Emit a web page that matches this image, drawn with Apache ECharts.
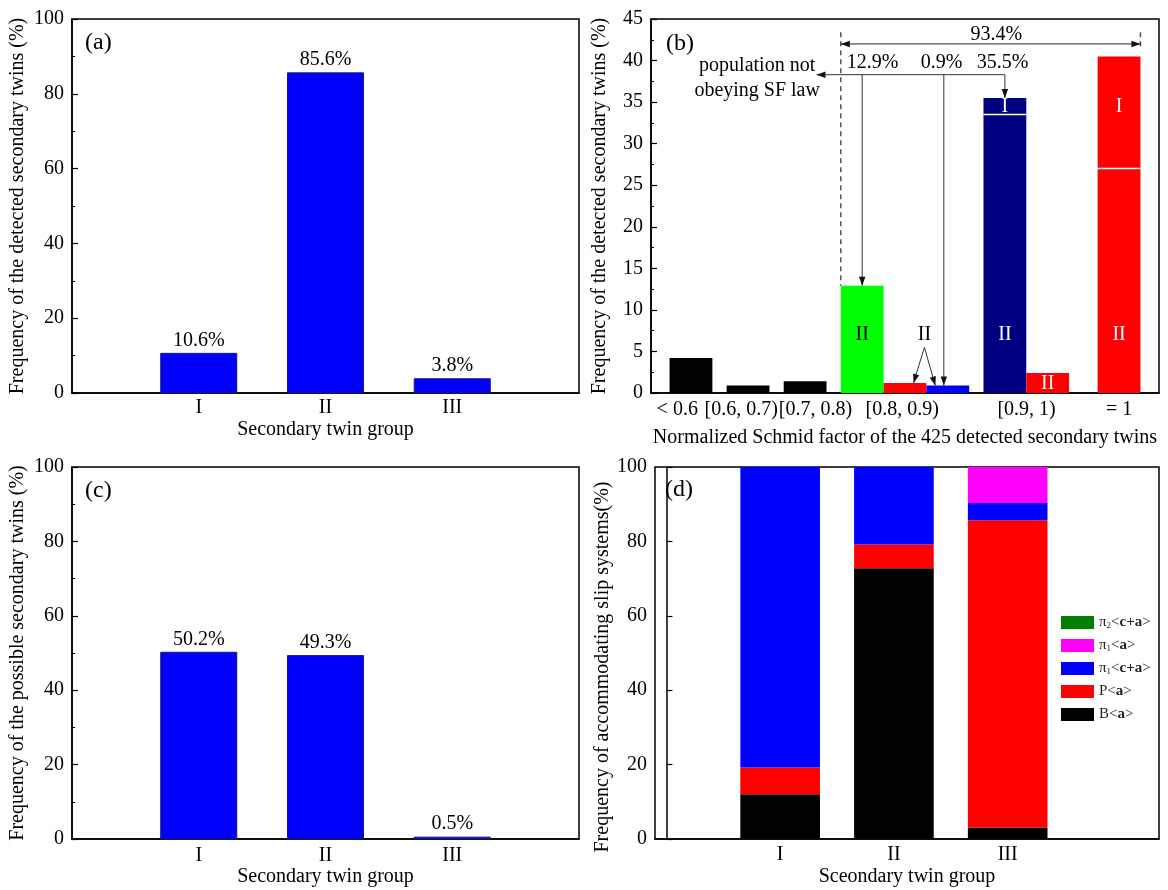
<!DOCTYPE html>
<html><head><meta charset="utf-8">
<script src="https://cdn.jsdelivr.net/npm/echarts@6/dist/echarts.min.js"></script>
<style>html,body{margin:0;padding:0;background:#fff}#c{width:1168px;height:890px}</style>
</head><body><div id="c"></div>
<script>
// ================= DATA =================
// (a) and (c): secondary twin groups
const groupCats = ['I', 'II', 'III'];
const groupPos = [1, 2, 3];
const detectedFreq = [10.6, 85.6, 3.8];   // (a) % of detected secondary twins
const possibleFreq = [50.2, 49.3, 0.5];   // (c) % of possible secondary twins

// (b): normalized Schmid factor classes
const sfCats = ['< 0.6', '[0.6, 0.7)', '[0.7, 0.8)', '[0.8, 0.9)', '[0.9, 1)', '= 1'];
const sfCatPos = [0.46, 1.58, 2.88, 4.4, 6.58, 8.2];
const sfBarPos = [0.7, 1.7, 2.7, 3.7, 4.45, 5.2, 6.2, 6.95, 8.2];
const sfLower = [4.2, 0.9, 1.4, 12.9, 1.2, 0.9, 33.5, 2.4, 27.0]; // group II part
const sfUpper = [0, 0, 0, 0, 0, 0, 2.0, 0, 13.5];                // group I part
const sfTotalLabel = '93.4%';
const sfPartLabels = ['12.9%', '0.9%', '35.5%'];

// (d): accommodating slip systems (stack order bottom -> top)
const slipNames = ['B<a>', 'P<a>', 'π1<c+a>', 'π1<a>', 'π2<c+a>'];
const slipB = [12.0, 72.8, 3.1];
const slipP = [7.2, 6.4, 82.6];
const slipPi1ca = [80.8, 20.8, 4.6];
const slipPi1a = [0, 0, 9.7];
const slipPi2ca = [0, 0, 0];

// ================= STYLE =================
const FONT = '"Liberation Serif", "Times New Roman", serif';
const FS = 20;
const sfColors = ['#000000', '#000000', '#000000', '#00ff00', '#ff0000', '#0000ff', '#000080', '#ff0000', '#ff0000'];
const slipColors = ['#000000', '#ff0000', '#0000ff', '#ff00ff', '#008000'];
const legendRich = {
  'B<a>': '{n|B<}{b|a}{n|>}',
  'P<a>': '{n|P<}{b|a}{n|>}',
  'π1<c+a>': '{n|π}{s|1}{n|<}{b|c+a}{n|>}',
  'π1<a>': '{n|π}{s|1}{n|<}{b|a}{n|>}',
  'π2<c+a>': '{n|π}{s|2}{n|<}{b|c+a}{n|>}'
};

const chart = echarts.init(document.getElementById('c'), null, {renderer: 'canvas'});

function gridBox(left, top, width, height) {
  return {left, top, width, height, show: true, borderColor: '#000', borderWidth: 1.5, backgroundColor: 'transparent'};
}
function xAx(gi, min, max, vals, labels, name, margin, nameGap) {
  return {
    type: 'value', gridIndex: gi, min, max,
    axisLine: {show: true, onZero: false, lineStyle: {color: '#000', width: 1.5}},
    axisTick: {show: false}, splitLine: {show: false},
    axisLabel: {
      customValues: vals, hideOverlap: false,
      formatter: v => { const i = vals.findIndex(c => Math.abs(c - v) < 1e-6); return i >= 0 ? labels[i] : ''; },
      color: '#000', fontFamily: FONT, fontSize: FS, margin
    },
    name, nameLocation: 'middle', nameGap,
    nameTextStyle: {color: '#000', fontFamily: FONT, fontSize: FS}
  };
}
function yAx(gi, max, interval, name, nameGap, pad) {
  return {
    type: 'value', gridIndex: gi, min: 0, max, interval,
    axisLine: {show: true, lineStyle: {color: '#000', width: 1.5}},
    axisTick: {show: true, inside: true, length: 6, lineStyle: {color: '#000', width: 1.2}},
    minorTick: {show: true, splitNumber: 2, length: 3, lineStyle: {color: '#000', width: 1}},
    splitLine: {show: false}, minorSplitLine: {show: false},
    axisLabel: {color: '#000', fontFamily: FONT, fontSize: FS, margin: 8},
    name, nameLocation: 'middle', nameGap,
    nameTextStyle: {color: '#000', fontFamily: FONT, fontSize: FS, padding: pad || 0}
  };
}

function blueBar(w) {
  return (params, api) => {
    const x = api.value(0), v = api.value(1);
    const a = api.coord([x - w / 2, v]), b = api.coord([x + w / 2, 0]);
    return {type: 'group', children: [
      {type: 'rect', shape: {x: a[0], y: a[1], width: b[0] - a[0], height: b[1] - a[1]},
       style: {fill: '#0000ff', stroke: '#1a1a70', lineWidth: 1}},
      {type: 'text', style: {text: v.toFixed(1) + '%', x: (a[0] + b[0]) / 2, y: a[1] - 3,
       align: 'center', verticalAlign: 'bottom', fontFamily: FONT, fontSize: FS, fill: '#000'}}
    ]};
  };
}

const SFW = 0.75;
function sfBar(params, api) {
  const i = params.dataIndex;
  const x = api.value(0), lo = api.value(1), up = api.value(2);
  const a = api.coord([x - SFW / 2, lo]), b = api.coord([x + SFW / 2, 0]);
  const ch = [{type: 'rect', shape: {x: a[0], y: a[1], width: b[0] - a[0], height: b[1] - a[1]}, style: {fill: sfColors[i]}}];
  if (up > 0) {
    const c = api.coord([x - SFW / 2, lo + up]);
    ch.push({type: 'rect', shape: {x: c[0], y: c[1], width: b[0] - a[0], height: a[1] - c[1]}, style: {fill: sfColors[i]}});
    ch.push({type: 'line', shape: {x1: a[0], y1: a[1], x2: b[0], y2: a[1]}, style: {stroke: '#fff', lineWidth: 1.5}});
  }
  return {type: 'group', children: ch};
}

const SLW = 0.7;
function slipBar(params, api) {
  const x = api.value(0), y0 = api.value(1), y1 = api.value(2);
  if (y1 - y0 <= 0) return null;
  const a = api.coord([x - SLW / 2, y1]), b = api.coord([x + SLW / 2, y0]);
  return {type: 'rect', shape: {x: a[0], y: a[1], width: b[0] - a[0], height: b[1] - a[1]}, style: {fill: api.visual('color')}};
}

const slipVals = [slipB, slipP, slipPi1ca, slipPi1a, slipPi2ca];
const cum = [0, 0, 0];
const slipSeries = slipVals.map((vals, k) => {
  const data = groupPos.map((p, i) => { const d = [p, cum[i], cum[i] + vals[i]]; cum[i] += vals[i]; return d; });
  return {type: 'custom', name: slipNames[k], xAxisIndex: 3, yAxisIndex: 3, data,
          encode: {x: 0, y: [1, 2]}, itemStyle: {color: slipColors[k]}, renderItem: slipBar};
});

const option = {
  backgroundColor: '#fff',
  animation: false,
  grid: [gridBox(72, 19, 507, 374), gridBox(651, 19, 508, 374), gridBox(72, 467, 507, 372), gridBox(655, 467, 504, 372)],
  xAxis: [
    xAx(0, 0, 4, groupPos, groupCats, 'Secondary twin group', 5, 27),
    xAx(1, 0, 8.9, sfCatPos, sfCats, 'Normalized Schmid factor of the 425 detected secondary twins', 7, 35),
    xAx(2, 0, 4, groupPos, groupCats, 'Secondary twin group', 7, 26),
    xAx(3, -0.1, 4.33, groupPos, groupCats, 'Sceondary twin group', 6, 28)
  ],
  yAxis: [
    yAx(0, 100, 20, 'Frequency of the detected secondary twins (%)', 44),
    yAx(1, 45, 5, 'Frequency of the detected secondary twins (%)', 41),
    yAx(2, 100, 20, 'Frequency of the possible secondary twins (%)', 44),
    Object.assign(yAx(3, 100, 20, 'Frequency of accommodating slip systems(%)', 41, [0, 28, 0, 0]), {minorTick: {show: false}})
  ],
  legend: {
    show: true, orient: 'vertical', left: 1056, top: 610, itemWidth: 33, itemHeight: 13, itemGap: 8,
    selectedMode: false, icon: 'rect',
    data: slipNames.slice().reverse().map(n => ({name: n, itemStyle: {color: slipColors[slipNames.indexOf(n)]}})),
    formatter: n => legendRich[n],
    textStyle: {color: '#222', fontFamily: FONT, fontSize: 15, rich: {
      n: {fontFamily: FONT, fontSize: 15, color: '#222'},
      b: {fontFamily: FONT, fontSize: 15, fontWeight: 'bold', color: '#222'},
      s: {fontFamily: FONT, fontSize: 9, color: '#222', verticalAlign: 'bottom', lineHeight: 8}
    }}
  },
  series: [
    {type: 'custom', xAxisIndex: 0, yAxisIndex: 0, data: groupPos.map((p, i) => [p, detectedFreq[i]]), encode: {x: 0, y: 1}, renderItem: blueBar(0.6)},
    {type: 'custom', xAxisIndex: 1, yAxisIndex: 1, data: sfBarPos.map((p, i) => [p, sfLower[i], sfUpper[i]]), encode: {x: 0, y: 1}, renderItem: sfBar},
    {type: 'custom', xAxisIndex: 2, yAxisIndex: 2, data: groupPos.map((p, i) => [p, possibleFreq[i]]), encode: {x: 0, y: 1}, renderItem: blueBar(0.6)},
    ...slipSeries
  ]
};
chart.setOption(option);

// ================= ANNOTATIONS (panel b, in data coordinates) =================
const g = [];
const px = (x, y) => chart.convertToPixel({gridIndex: 1}, [x, y]);
function seg(p, q, style) {
  g.push({type: 'line', silent: true, z: 100, shape: {x1: p[0], y1: p[1], x2: q[0], y2: q[1]},
          style: Object.assign({stroke: '#333', lineWidth: 1}, style || {})});
}
function head(from, to) {
  const dx = to[0] - from[0], dy = to[1] - from[1], L = Math.hypot(dx, dy);
  const ux = dx / L, uy = dy / L, len = 9, hw = 3.2;
  const bx = to[0] - ux * len, by = to[1] - uy * len;
  g.push({type: 'polygon', silent: true, z: 101, shape: {points: [[to[0], to[1]], [bx - uy * hw, by + ux * hw], [bx + uy * hw, by - ux * hw]]},
          style: {fill: '#111'}});
}
function arrow(a, b, style) { const p = px(a[0], a[1]), q = px(b[0], b[1]); seg(p, q, style); head(p, q); }
function txt(s, x, y, color, opts) {
  const p = px(x, y);
  g.push({type: 'text', silent: true, z: 102, x: p[0], y: p[1],
          style: Object.assign({text: s, fontFamily: FONT, fontSize: FS, fill: color || '#000', align: 'center', verticalAlign: 'middle'}, opts || {})});
}
const xL = sfBarPos[3] - SFW / 2, xR = sfBarPos[8] + SFW / 2;
const dash = {stroke: '#555', lineWidth: 1.5, lineDash: [5, 4]};
seg(px(xL, 43.4), px(xL, sfLower[3]), dash);
seg(px(xR, 43.4), px(xR, 41.6), dash);
arrow([6.0, 42.0], [xL, 42.0], {stroke: '#222'});
arrow([6.0, 42.0], [xR, 42.0], {stroke: '#222'});
txt(sfTotalLabel, 6.05, 43.1);
txt(sfPartLabels[0], 3.88, 39.7);
txt(sfPartLabels[1], 5.09, 39.7);
txt(sfPartLabels[2], 6.16, 39.7);
const yH = 38.3;
arrow([sfBarPos[6], yH], [2.9, yH]);
arrow([sfBarPos[6], yH], [sfBarPos[6], sfLower[6] + sfUpper[6]]);
arrow([sfBarPos[3], yH], [sfBarPos[3], sfLower[3]]);
arrow([5.13, yH], [5.13, sfLower[5]]);
txt('population not', 1.86, 39.35);
txt('obeying SF law', 1.86, 36.35);
txt('II', 4.79, 7.0);
arrow([4.79, 5.5], [4.6, sfLower[4]]);
arrow([4.79, 5.5], [4.98, sfLower[5]]);
txt('II', sfBarPos[3], 7.0, '#000');
txt('II', sfBarPos[6], 7.0, '#fff');
txt('I', sfBarPos[6], 34.5, '#fff');
txt('II', sfBarPos[7], 1.1, '#fff');
txt('II', sfBarPos[8], 7.0, '#fff');
txt('I', sfBarPos[8], 34.4, '#fff');

// panel letters
[['(a)', 85, 43], ['(b)', 666, 44], ['(c)', 85, 491], ['(d)', 665, 490]].forEach(([s, x, y]) => {
  g.push({type: 'text', silent: true, z: 102, x, y, style: {text: s, fontFamily: FONT, fontSize: 24, fill: '#000', align: 'left', verticalAlign: 'middle'}});
});

chart.setOption({graphic: {elements: g}});
</script></body></html>
